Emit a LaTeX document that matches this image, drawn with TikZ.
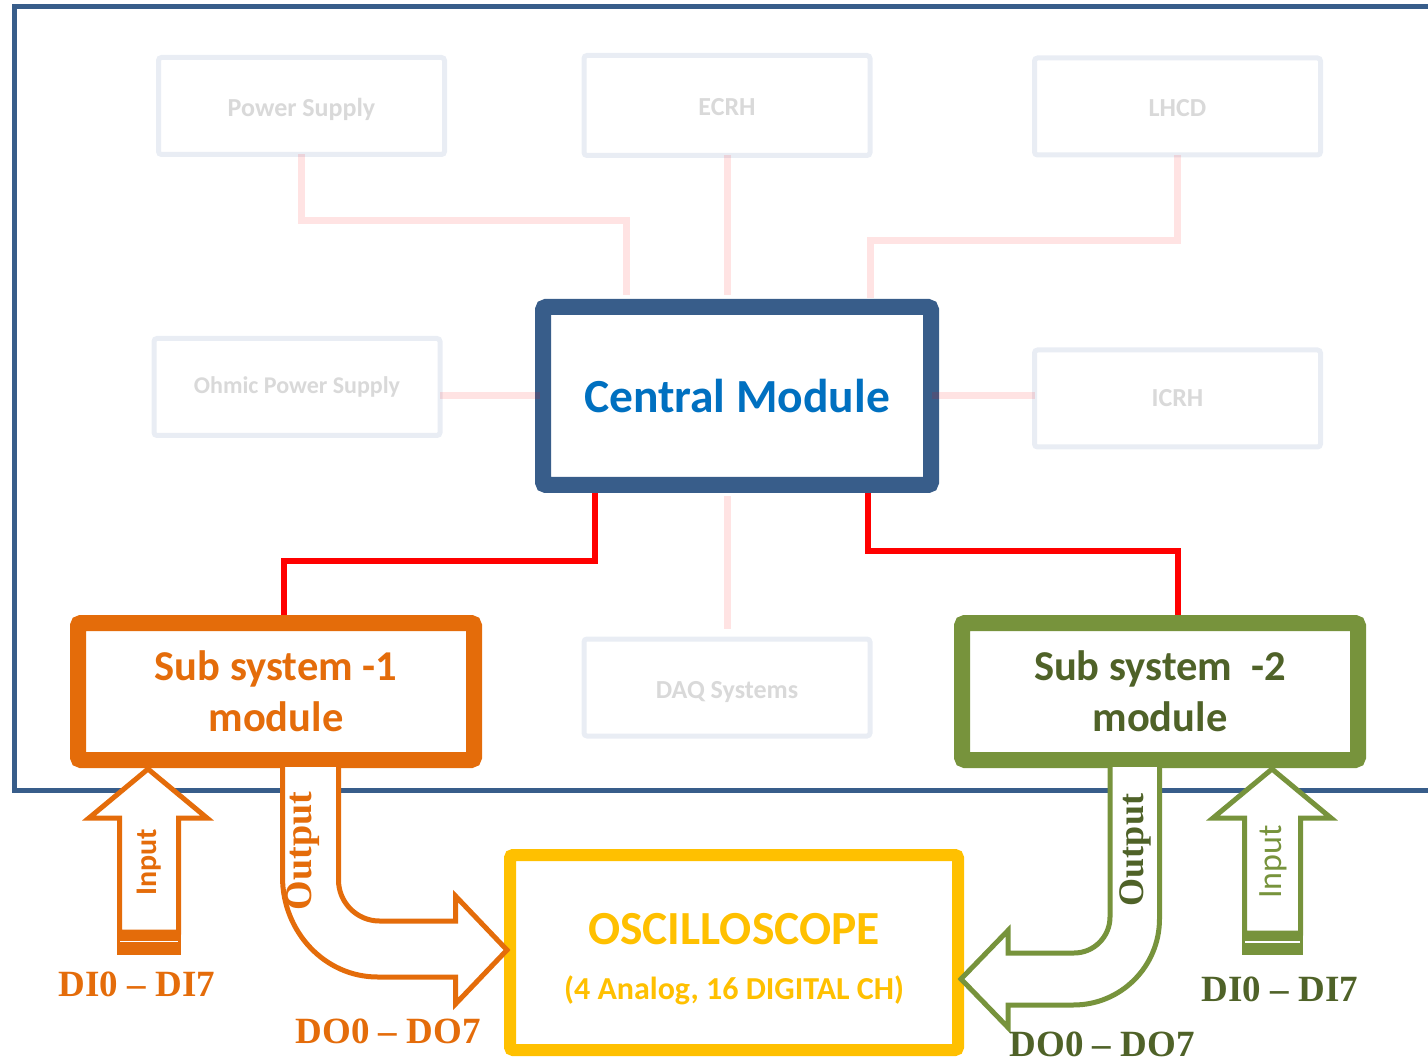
\documentclass[tikz,border=0pt]{standalone}
\usepackage{fontspec}
\setmainfont{Carlito}
\newfontfamily\labelserif{Liberation Serif}
\pgfdeclarelayer{background}
\pgfsetlayers{background,main}

\definecolor{frameblue}{HTML}{385D8A}
\definecolor{centraltext}{HTML}{0070C0}
\definecolor{subone}{HTML}{E46C0A}
\definecolor{subtwo}{HTML}{77933C}
\definecolor{subtwotext}{HTML}{4F6228}
\definecolor{scope}{HTML}{FFC000}
\definecolor{faintframe}{HTML}{E9EDF4}
\definecolor{fainttext}{HTML}{D9D9D9}

% text lowered slightly below the box centre, without changing the box
\newcommand{\lowtext}[1]{\raisebox{-10.5pt}[0pt][0pt]{#1}}

\tikzset{
  block/.style={rectangle, fill=white, inner sep=0pt, outer sep=0pt, align=center, rounded corners=3pt},
  mainbox/.style={block, line width=16pt},
  faintbox/.style={block, draw=faintframe, line width=5pt, text=fainttext,
    minimum width=286pt, minimum height=97pt, font=\bfseries\fontsize{26}{30}\selectfont},
  faint/.style={draw=red, opacity=0.11, line width=7pt},
  link/.style={draw=red, line width=6.5pt},
  blockarrow/.style={line width=5pt, fill=white, line join=miter},
  chanlabel/.style={font=\labelserif\bfseries\fontsize{37}{40}\selectfont, inner sep=0pt},
  arrowword/.style={rotate=90, inner sep=0pt}
}

\begin{document}
\begin{tikzpicture}[x=1pt, y=-1pt]
\useasboundingbox (0,0) rectangle (1428,1064);

% ---- central module and subsystem boxes (anchors sit on the border centre line)
\node[mainbox, draw=frameblue, minimum width=388pt, minimum height=178pt,
      text=centraltext, font=\bfseries\fontsize{47.5}{56}\selectfont] (central) at (737,396) {Central Module};

\node[mainbox, draw=subone, minimum width=396pt, minimum height=137pt,
      text=subone, font=\bfseries\fontsize{42.5}{51}\selectfont] (sub1) at (276,691.5) {Sub system -1\\module};
\node[mainbox, draw=subtwo, minimum width=396pt, minimum height=137pt,
      text=subtwotext, font=\bfseries\fontsize{42.5}{51}\selectfont] (sub2) at (1160,691.5) {Sub system~~-2\\module};

% ---- oscilloscope
\node[block, draw=scope, line width=12pt, minimum width=448pt, minimum height=195pt] (osc) at (734,952.5) {};
\node[text=scope, font=\bfseries\fontsize{47.5}{50}\selectfont, inner sep=0pt] (osctitle) at (734,929) {OSCILLOSCOPE};
\node[text=scope, font=\bfseries\fontsize{32}{36}\selectfont, inner sep=0pt] (oscsub) at (734,990) {(4 Analog, 16 DIGITAL CH)};

% ---- surrounding (faded) subsystems
\node[faintbox] (ps)    at (301.5,106)   {\lowtext{Power Supply}};
\node[faintbox, minimum height=100pt] (ecrh) at (727,105.5) {\lowtext{ECRH}};
\node[faintbox] (lhcd)  at (1177.5,106.5) {\lowtext{LHCD}};
\node[faintbox, font=\bfseries\fontsize{24}{28}\selectfont] (ohmic) at (297,387) {Ohmic Power Supply};
\node[faintbox] (icrh)  at (1177.5,398.5) {ICRH};
\node[faintbox] (daq)   at (727,687.5)   {\lowtext{DAQ Systems}};

% ---- frame and active links, kept underneath the boxes
\coordinate (r1) at (284,561);
\coordinate (r2) at (1178,551);
\begin{pgfonlayer}{background}
  \draw[frameblue, line width=5pt] (1428,6.5) -- (14.5,6.5) -- (14.5,790) -- (1428,790);
  \draw[link] ([xshift=-142pt]central.south) |- (r1) -- (r1 |- sub1.north);
  \draw[link] ([xshift=131pt]central.south) |- (r2) -- (r2 |- sub2.north);
\end{pgfonlayer}

% ---- subsystem 1: input and output block arrows
\draw[blockarrow, draw=subone] (148,769) -- (207,818) -- (178.5,818) -- (178.5,932)
  -- (119.5,932) -- (119.5,818) -- (89,818) -- cycle;
\fill[subone] (117,932) rectangle (181,955);
\draw[white, line width=1.2pt] (120,941.5) -- (178,941.5);

\draw[blockarrow, draw=subone] (282.5,767) -- (282.5,877)
  .. controls (282.5,932) and (325,977) .. (377.5,977)
  -- (455.5,977) -- (455.5,1004) -- (507,950) -- (455.5,896) -- (455.5,921)
  -- (379.5,921) .. controls (356.9,921) and (338.5,902.6) .. (338.5,880) -- (338.5,767);

% ---- subsystem 2: input and output block arrows
\draw[blockarrow, draw=subtwo] (1272,769) -- (1331,818) -- (1300.5,818) -- (1300.5,933)
  -- (1244.5,933) -- (1244.5,818) -- (1213,818) -- cycle;
\fill[subtwo] (1242,933) rectangle (1303,955);
\draw[white, line width=1.2pt] (1245,942) -- (1300,942);

\draw[blockarrow, draw=subtwo] (1110,767) -- (1110,917)
  .. controls (1110,936.9) and (1093.9,953) .. (1074,953)
  -- (1008,953) -- (1008,930.5) -- (961,979) -- (1008,1027.5) -- (1008,1005)
  -- (1073.5,1005) .. controls (1121,1005) and (1159.5,966.5) .. (1159.5,919) -- (1159.5,767);

% ---- arrow words
\node[arrowword, text=subone, font=\bfseries\fontsize{30}{30}\selectfont] (in1) at (149.5,862) {Input};
\node[arrowword, text=subone, font=\labelserif\bfseries\fontsize{38}{38}\selectfont] (out1) at (303,851) {Output};
\node[arrowword, text=subtwo, font=\fontsize{34}{34}\selectfont] (in2) at (1273.5,862) {Input};
\node[arrowword, text=subtwotext, font=\labelserif\bfseries\fontsize{36}{36}\selectfont] (out2) at (1135,850) {Output};

% ---- channel labels
\node[chanlabel, text=subone] (di1) at (137,984) {DI0 – DI7};
\node[chanlabel, text=subone] (do1) at (388,1031) {DO0 – DO7};
\node[chanlabel, text=subtwotext] (di2) at (1280,989) {DI0 – DI7};
\node[chanlabel, text=subtwotext] (do2) at (1102,1044) {DO0 – DO7};

% ---- faded links to the surrounding subsystems
\draw[faint] (ps.south) |- ([xshift=-111pt,yshift=86pt]central.north) -- ([xshift=-111pt,yshift=12pt]central.north);
\draw[faint] (ecrh.south) -- ([xshift=-10pt,yshift=12pt]central.north);
\draw[faint] (lhcd.south) |- ([xshift=133pt,yshift=66pt]central.north) -- ([xshift=133pt,yshift=9pt]central.north);
\draw[faint] (ohmic.east |- central.west) -- ([xshift=-3pt]central.west);
\draw[faint] ([xshift=1pt]central.east) -- (central.east -| icrh.west);
\draw[faint] ([xshift=-10pt,yshift=-11pt]central.south) -- ([yshift=10.5pt]daq.north);
\end{tikzpicture}
\end{document}
